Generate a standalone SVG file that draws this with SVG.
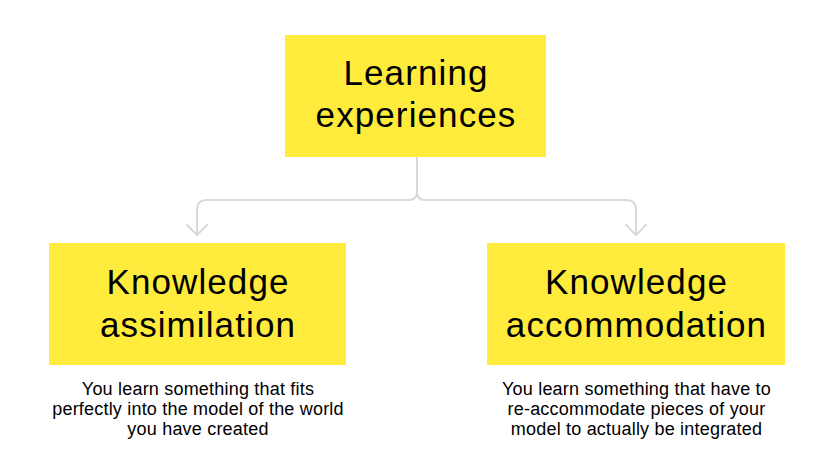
<svg xmlns="http://www.w3.org/2000/svg" width="834" height="471" viewBox="0 0 834 471">
  <defs>
    <style>
      .box { fill: #FFEB3C; }
      .head { font-family: "Liberation Sans", Arial, sans-serif; font-size: 35px; fill: #000; text-anchor: middle; letter-spacing: 1.1px; }
      .desc { font-family: "Liberation Sans", Arial, sans-serif; font-size: 18px; fill: #000; text-anchor: middle; letter-spacing: 0.2px; }
      .conn { fill: none; stroke: #D9D9D9; stroke-width: 2; stroke-linecap: round; stroke-linejoin: round; }
    </style>
  </defs>
  <rect width="834" height="471" fill="#FFFFFF"/>
  <g id="connectors">
    <path class="conn" d="M417,157 V192 Q417,200 409,200 H207 Q197,200 197,210 V235"/>
    <path class="conn" d="M187,225 L197,235 L207,225"/>
    <path class="conn" d="M417,192 Q417,200 425,200 H626 Q636,200 636,210 V235"/>
    <path class="conn" d="M626,225 L636,235 L646,225"/>
  </g>
  <g id="learning-experiences">
    <rect class="box" x="285" y="35" width="261" height="122"/>
    <text class="head" x="416" y="85">Learning</text>
    <text class="head" x="416" y="127">experiences</text>
  </g>
  <g id="knowledge-assimilation">
    <rect class="box" x="49" y="243" width="297" height="122"/>
    <text class="head" x="198" y="294">Knowledge</text>
    <text class="head" x="198" y="337">assimilation</text>
    <text class="desc" x="198" y="395">You learn something that fits</text>
    <text class="desc" x="198" y="415">perfectly into the model of the world</text>
    <text class="desc" x="198" y="435">you have created</text>
  </g>
  <g id="knowledge-accommodation">
    <rect class="box" x="487" y="243" width="298" height="122"/>
    <text class="head" x="636.5" y="294">Knowledge</text>
    <text class="head" x="636.5" y="337">accommodation</text>
    <text class="desc" x="636.5" y="395">You learn something that have to</text>
    <text class="desc" x="636.5" y="415">re-accommodate pieces of your</text>
    <text class="desc" x="636.5" y="435">model to actually be integrated</text>
  </g>
</svg>
